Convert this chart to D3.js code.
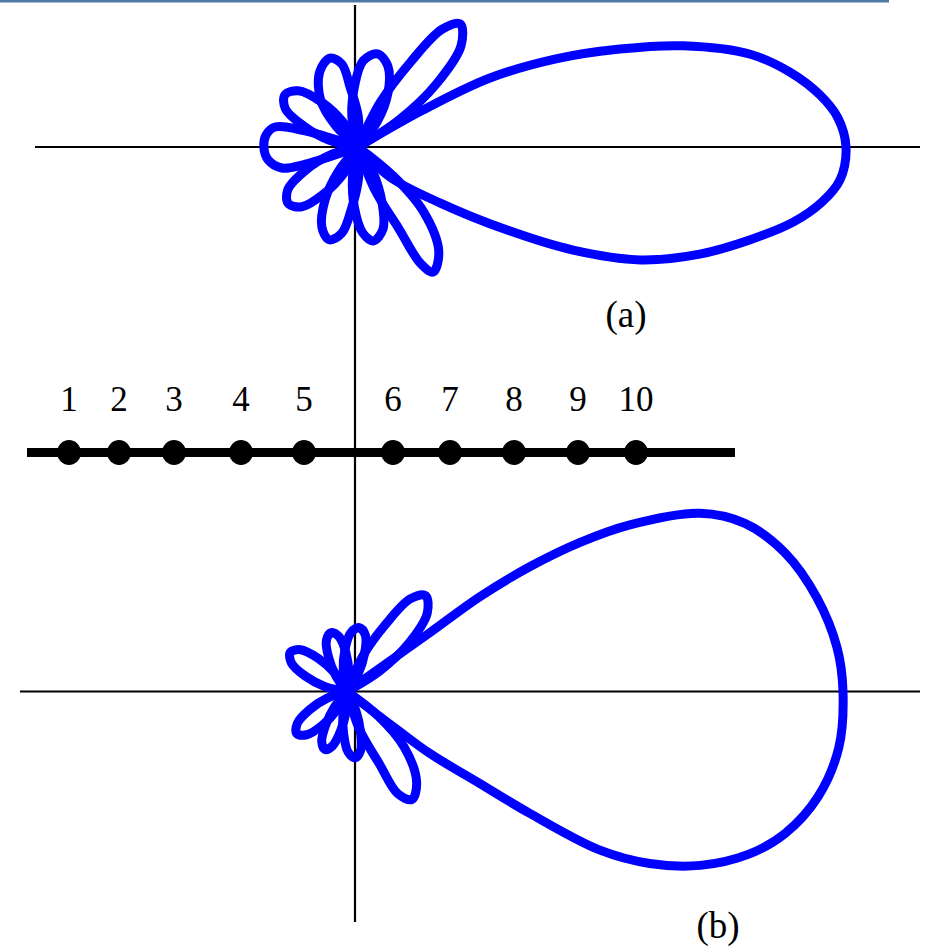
<!DOCTYPE html>
<html>
<head>
<meta charset="utf-8">
<script src="https://cdn.jsdelivr.net/npm/d3@7"></script>
<style>
  html, body { margin: 0; padding: 0; background: #ffffff; }
  svg { display: block; }
</style>
</head>
<body>
<svg id="chart" width="926" height="950"></svg>
<script>
// ---- Array geometry: element numbers and their positions along the array axis (units, axis origin = 0)
const elementLabels = ["1", "2", "3", "4", "5", "6", "7", "8", "9", "10"];
const elementPositions = [-2.86, -2.36, -1.81, -1.14, -0.51, 0.38, 0.95, 1.59, 2.23, 2.81];

// ---- Radiation pattern (a): [angle in degrees, normalised field gain]
const mainLobeA = [
  [29.6, 0.153], [27.6, 0.305], [24.0, 0.444], [20.5, 0.573], [17.3, 0.697],
  [13.3, 0.826], [9.8, 0.899], [6.4, 0.953], [3.5, 0.985], [0, 1.0],
  [-3.9, 0.990], [-6.8, 0.957], [-9.8, 0.905], [-13.3, 0.826], [-17.4, 0.734],
  [-21.8, 0.623], [-25.6, 0.489], [-29.1, 0.350], [-34.3, 0.203], [-43.2, 0.090]
];
const sideLobesA = [
  [[33.5, 0.102], [38.8, 0.206], [44.5, 0.296], [50.3, 0.328], [54.5, 0.296], [58.2, 0.206], [63.5, 0.102]],
  [[52.6, 0.064], [60.9, 0.126], [69.8, 0.177], [78.2, 0.195], [86.6, 0.177], [93.1, 0.126], [101.4, 0.064]],
  [[89.4, 0.062], [97.5, 0.123], [101.0, 0.173], [107.5, 0.191], [117.0, 0.173], [128.5, 0.123], [136.6, 0.062]],
  [[121.1, 0.060], [129.0, 0.118], [136.7, 0.168], [144.5, 0.184], [152.3, 0.168], [159.0, 0.118], [166.9, 0.060]],
  [[163.0, 0.111], [166.5, 0.175], [172.6, 0.190], [180.0, 0.193], [188.2, 0.186], [195.4, 0.162], [198.0, 0.113]],
  [[196.1, 0.060], [204.0, 0.118], [211.2, 0.168], [219.0, 0.184], [226.8, 0.168], [234.0, 0.118], [241.9, 0.060]],
  [[231.0, 0.064], [237.9, 0.126], [245.7, 0.180], [252.7, 0.199], [259.3, 0.180], [264.1, 0.126], [271.0, 0.064]],
  [[259.6, 0.062], [266.6, 0.124], [273.1, 0.176], [279.3, 0.195], [286.9, 0.176], [293.4, 0.124], [300.4, 0.062]],
  [[291.4, 0.093], [296.6, 0.188], [298.2, 0.270], [301.0, 0.299], [307.8, 0.270], [315.4, 0.188], [320.6, 0.093]]
];

// ---- Radiation pattern (b)
const mainLobeB = [
  [35.4, 0.205], [35.5, 0.329], [34.3, 0.447], [32.6, 0.558], [30.5, 0.662],
  [26.8, 0.797], [22.9, 0.871], [17.6, 0.926], [11.3, 0.966], [5.1, 0.992],
  [0, 1.0], [-6.5, 0.998], [-12.6, 0.973], [-18.0, 0.928], [-22.1, 0.873],
  [-26.2, 0.794], [-29.6, 0.702], [-32.1, 0.602], [-33.7, 0.443], [-34.7, 0.326],
  [-36.8, 0.209], [-37.2, 0.127]
];
const sideLobesB = [
  [[32.0, 0.078], [38.0, 0.158], [44.3, 0.226], [50.7, 0.250], [55.7, 0.226], [60.0, 0.158], [66.0, 0.078]],
  [[57.7, 0.042], [65.1, 0.084], [71.8, 0.119], [79.0, 0.131], [86.2, 0.119], [92.9, 0.084], [100.3, 0.042]],
  [[84.6, 0.039], [91.6, 0.078], [98.0, 0.111], [105.0, 0.123], [112.0, 0.111], [118.4, 0.078], [125.4, 0.039]],
  [[123.3, 0.045], [131.0, 0.089], [138.0, 0.126], [145.4, 0.139], [152.8, 0.126], [159.8, 0.089], [167.5, 0.045]],
  [[198.6, 0.042], [206.0, 0.084], [212.7, 0.119], [219.9, 0.132], [227.1, 0.119], [233.8, 0.084], [241.2, 0.042]],
  [[231.0, 0.040], [237.4, 0.079], [243.2, 0.113], [249.2, 0.125], [255.2, 0.113], [261.0, 0.079], [267.4, 0.040]],
  [[259.1, 0.043], [265.4, 0.085], [271.0, 0.122], [277.0, 0.135], [283.0, 0.122], [288.6, 0.085], [294.9, 0.043]],
  [[288.2, 0.080], [294.1, 0.160], [296.4, 0.230], [301.0, 0.254], [307.6, 0.230], [315.9, 0.160], [321.8, 0.080]]
];

const panelLabels = ["(a)", "(b)"];

// ------------------------------------------------------------------
const svg = d3.select("#chart");
const BLUE = "#0000ff";
const SERIF = "'Liberation Serif', 'Times New Roman', serif";

// header rule
svg.append("rect")
  .attr("x", 0).attr("y", 0).attr("width", 889).attr("height", 2.5)
  .attr("fill", "#4f77a6");

// ---- axes
const axisX = 355;
const axisYa = 147, axisYb = 691.5;
const axes = svg.append("g").attr("stroke", "#000").attr("stroke-width", 2.2).attr("fill", "none");
axes.append("line").attr("x1", axisX).attr("x2", axisX).attr("y1", 5).attr("y2", 922);
axes.append("line").attr("x1", 35).attr("x2", 920).attr("y1", axisYa).attr("y2", axisYa);
axes.append("line").attr("x1", 20).attr("x2", 920).attr("y1", axisYb).attr("y2", axisYb);

// ---- polar patterns
const toRadial = deg => (90 - deg) * Math.PI / 180;  // math angle -> d3 radial angle

function drawPattern(cx, cy, radius, mainLobe, sideLobes) {
  const r = d3.scaleLinear().domain([0, 1]).range([0, radius]);
  const line = d3.lineRadial()
    .angle(p => toRadial(p[0]))
    .radius(p => r(p[1]))
    .curve(d3.curveCatmullRom.alpha(0.5));
  // each lobe starts and ends at the pattern null in the origin
  const withNulls = pts => [[pts[0][0], 0], ...pts, [pts[pts.length - 1][0], 0]];
  const g = svg.append("g").attr("transform", `translate(${cx},${cy})`)
    .attr("fill", "none").attr("stroke", BLUE).attr("stroke-width", 9)
    .attr("stroke-linejoin", "round").attr("stroke-linecap", "round");
  g.selectAll("path.side").data(sideLobes).join("path")
    .attr("class", "side").attr("d", d => line(withNulls(d)));
  g.append("path").attr("class", "main").attr("d", line(withNulls(mainLobe)));
}

drawPattern(358, axisYa, 488, mainLobeA, sideLobesA);
drawPattern(347, axisYb, 496, mainLobeB, sideLobesB);

// ---- the array of elements
const arrayY = 452.5;
const ax = d3.scaleLinear().domain([0, 1]).range([axisX, axisX + 100]);
svg.append("line")
  .attr("x1", ax(-3.28)).attr("x2", ax(3.8))
  .attr("y1", arrayY).attr("y2", arrayY)
  .attr("stroke", "#000").attr("stroke-width", 9);

svg.append("g").selectAll("ellipse").data(elementPositions).join("ellipse")
  .attr("cx", d => ax(d)).attr("cy", arrayY)
  .attr("rx", 12).attr("ry", 12.5)
  .attr("fill", "#000");

svg.append("g").selectAll("text").data(elementLabels).join("text")
  .attr("x", (d, i) => ax(elementPositions[i]))
  .attr("y", 411)
  .attr("text-anchor", "middle")
  .attr("font-family", SERIF)
  .attr("font-size", 35)
  .attr("fill", "#000")
  .text(d => d);

// ---- panel captions
svg.append("text").attr("x", 626).attr("y", 327).attr("text-anchor", "middle")
  .attr("font-family", SERIF).attr("font-size", 37).attr("fill", "#000")
  .text(panelLabels[0]);
svg.append("text").attr("x", 718).attr("y", 938).attr("text-anchor", "middle")
  .attr("font-family", SERIF).attr("font-size", 37).attr("fill", "#000")
  .text(panelLabels[1]);
</script>
</body>
</html>
